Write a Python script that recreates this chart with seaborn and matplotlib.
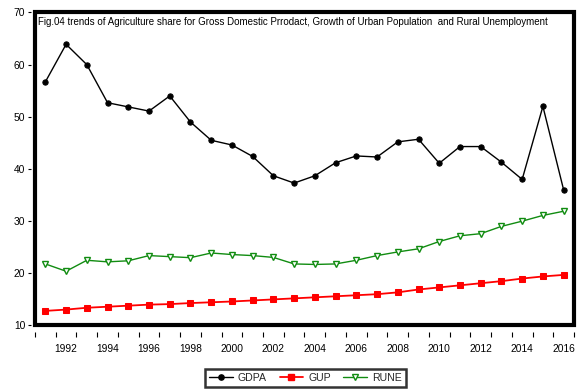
import matplotlib
matplotlib.use("Agg")
import matplotlib.pyplot as plt
from matplotlib.patches import Rectangle
from matplotlib.lines import Line2D
from matplotlib.ticker import FixedLocator, NullFormatter
import seaborn as sns
import pandas as pd

years = list(range(1991, 2017))
gdpa = [56.7, 63.9, 60.0, 52.7, 51.9, 51.1, 54.0, 49.0, 45.5, 44.6, 42.4, 38.7, 37.3,
        38.7, 41.2, 42.5, 42.3, 45.2, 45.7, 41.1, 44.3, 44.3, 41.3, 38.0, 52.0, 36.0]
gup = [12.8, 13.05, 13.4, 13.6, 13.8, 14.0, 14.1, 14.3, 14.45, 14.6, 14.8, 15.0, 15.2,
       15.4, 15.6, 15.8, 16.0, 16.35, 16.9, 17.3, 17.7, 18.1, 18.5, 19.0, 19.4, 19.7]
rune = [21.8, 20.4, 22.5, 22.2, 22.4, 23.4, 23.2, 23.0, 23.9, 23.6, 23.4, 23.05, 21.8,
        21.7, 21.8, 22.5, 23.4, 24.1, 24.7, 26.1, 27.2, 27.6, 29.0, 30.0, 31.1, 31.9]
series_names = ["GDPA", "GUP", "RUNE"]
title_text = ("Fig.04 trends of Agriculture share for Gross Domestic Prrodact, "
              "Growth of Urban Population  and Rural Unemployment")

sns.set_theme(style="white")
plt.rcParams["font.family"] = ["Liberation Sans", "DejaVu Sans"]

df = pd.DataFrame({"year": years, "GDPA": gdpa, "GUP": gup, "RUNE": rune})

fig = plt.figure(figsize=(5.79, 3.90), dpi=100)
ax = fig.add_axes([0.06045, 0.1654, 0.9309, 0.8026])

green = "#118c11"
styles = {
    "GDPA": dict(color="black", marker="o", markersize=3.8, linewidth=1.0,
                 markerfacecolor="black", markeredgecolor="black"),
    "GUP": dict(color="#ff0000", marker="s", markersize=4.0, linewidth=1.3,
                markerfacecolor="#ff0000", markeredgecolor="#ff0000"),
    "RUNE": dict(color=green, marker="v", markersize=4.3, linewidth=1.0,
                 markerfacecolor="white", markeredgecolor=green, markeredgewidth=1.0),
}
for name in series_names:
    sns.lineplot(data=df, x="year", y=name, ax=ax, sort=False, estimator=None,
                 legend=False, **styles[name])

ax.set_xlim(1990.5, 2016.5)
ax.set_ylim(10, 70)
ax.set_xlabel("")
ax.set_ylabel("")

# x: labels on even years, tick marks between observations
ax.xaxis.set_major_locator(FixedLocator(list(range(1992, 2017, 2))))
ax.xaxis.set_minor_locator(FixedLocator([y + 0.5 for y in range(1990, 2017)]))
ax.xaxis.set_minor_formatter(NullFormatter())
ax.set_yticks([10, 20, 30, 40, 50, 60, 70])

for s in ax.spines.values():
    s.set_visible(False)
ax.spines["bottom"].set_position(("outward", 5.0))
ax.spines["left"].set_position(("outward", 3.0))

ax.tick_params(axis="x", which="major", length=0, pad=8, labelsize=7.4, colors="black")
ax.tick_params(axis="x", which="minor", bottom=True, direction="out", length=3.6,
               width=0.8, color="black")
ax.tick_params(axis="y", which="major", left=True, direction="out", length=2.4,
               width=0.8, pad=1.5, labelsize=7.4, colors="black")

frame = Rectangle((0, 0), 1, 1, transform=ax.transAxes, fill=False,
                  edgecolor="black", linewidth=3.0, clip_on=False, zorder=10)
ax.add_patch(frame)

ax.text(0.006, 0.986, title_text, transform=ax.transAxes, ha="left", va="top",
        fontsize=7.05, color="black", zorder=11)

handles = [Line2D([], [], **styles[n]) for n in series_names]
leg = fig.legend(handles, series_names, loc="center", bbox_to_anchor=(0.5276, 0.0308),
                 ncol=3, fontsize=7.6, frameon=True, fancybox=False, shadow=False,
                 handlelength=2.2, handletextpad=0.5, columnspacing=1.2,
                 borderpad=0.4, edgecolor="black")
leg.get_frame().set_linewidth(1.8)

fig.savefig("out.png", dpi=100, facecolor="white")
